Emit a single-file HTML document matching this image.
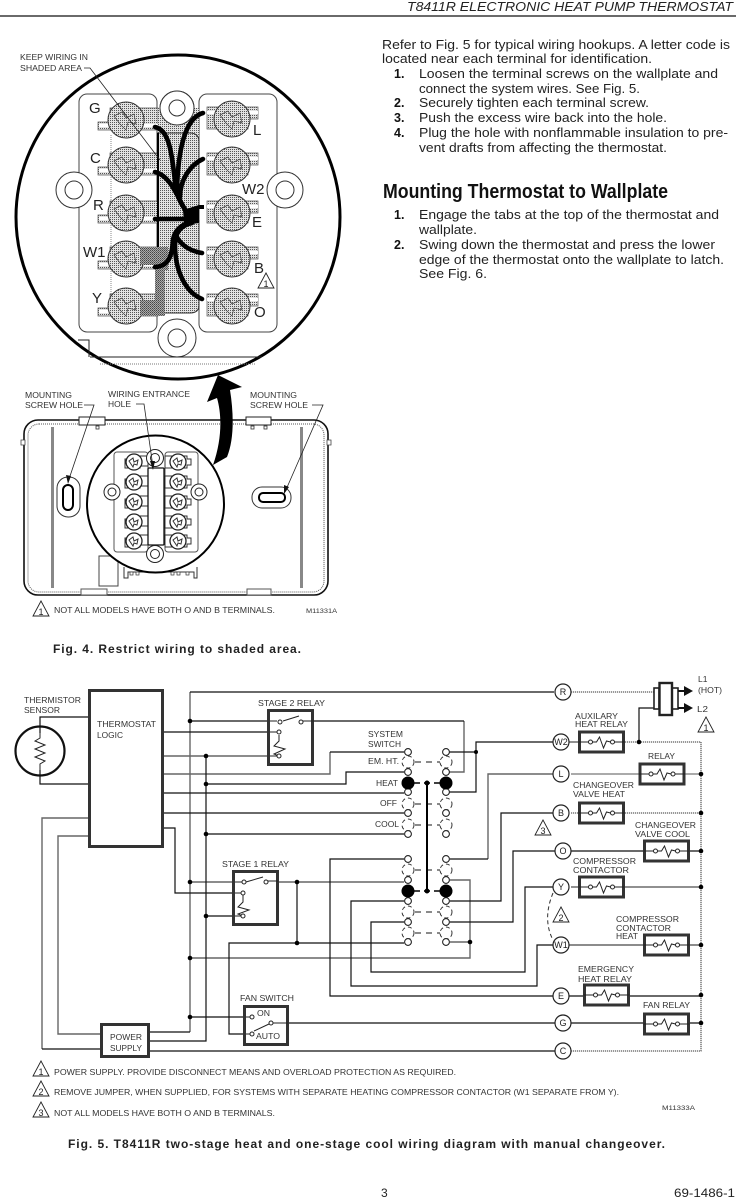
<!DOCTYPE html>
<html><head><meta charset="utf-8"><title>T8411R</title>
<style>
html,body{margin:0;padding:0;background:#fff;}
svg{display:block;}
text{font-family:"Liberation Sans",sans-serif;}
.b{font-size:12.5px;fill:#222;}
.n{font-size:12.5px;fill:#111;font-weight:bold;}
.l{font-size:8.5px;fill:#333;}
.t{font-size:15px;fill:#222;}
.c{font-size:9px;fill:#222;text-anchor:middle;}
.k{stroke:#111;stroke-width:1.2;fill:none;}
.g{stroke:#666;stroke-width:1.4;fill:none;}
.d{stroke:#333;stroke-width:1;fill:none;stroke-dasharray:1 1;}
.w{stroke:#000;stroke-width:4.6;fill:none;stroke-linecap:round;}
</style></head><body>
<svg xmlns="http://www.w3.org/2000/svg" width="736" height="1199" viewBox="0 0 736 1199">
<defs>
<pattern id="st" width="2" height="2" patternUnits="userSpaceOnUse"><rect width="2" height="2" fill="#e2e2e2"/><rect width="1" height="1" fill="#555"/></pattern>
<pattern id="dk" width="2" height="2" patternUnits="userSpaceOnUse"><rect width="2" height="2" fill="#aaa"/><rect width="1" height="1" fill="#444"/><rect x="1" y="1" width="1" height="1" fill="#666"/></pattern>
<g id="relay"><rect x="-22" y="-10" width="44" height="20" fill="#fff" stroke="#333" stroke-width="3"/><path d="M-23,0H-13M-9,0H-5L-2,-5L2,6L5,-1L9,0M13,0H23" stroke="#222" fill="none"/><circle cx="-11" r="2" fill="#fff" stroke="#222"/><circle cx="11" r="2" fill="#fff" stroke="#222"/></g>
<g id="tL"><path d="M-28,2H-16V-12H32V10H-28Z" fill="url(#st)" stroke="#555" stroke-width=".7"/><rect x="-27" y="4" width="14" height="3" fill="#fff"/><rect x="17" y="4" width="15" height="3" fill="#fff"/><circle r="18" fill="url(#st)" stroke="#333"/><path d="M-12,-4L-4,-8L0,-2L8,-6L10,4L2,2L0,10L-6,4Z" fill="none" stroke="#444" stroke-width=".7"/></g>
<g id="tR"><path d="M-25,-12H26V0H16V10H-25Z" fill="url(#st)" stroke="#555" stroke-width=".7"/><rect x="17" y="-8" width="9" height="3" fill="#fff"/><rect x="-25" y="-8" width="8" height="3" fill="#fff"/><circle r="18" fill="url(#st)" stroke="#333"/><path d="M-12,-4L-4,-8L0,-2L8,-6L10,4L2,2L0,10L-6,4Z" fill="none" stroke="#444" stroke-width=".7"/></g>
<g id="sL"><path d="M-9,-3H-5V-6H14V4H6V6H-9Z" fill="#fff" stroke="#333"/><circle r="8" fill="#fff" stroke="#222" stroke-width="1.3"/><path d="M-5,-1L-1,-4L0,0L4,-2L3,3L0,2L-1,5Z" fill="none" stroke="#333"/></g>
<g id="sR"><path d="M-13,-6H9V-3H13V3H9V6H-13Z" fill="#fff" stroke="#333"/><circle r="8" fill="#fff" stroke="#222" stroke-width="1.3"/><path d="M-5,-1L-1,-4L0,0L4,-2L3,3L0,2L-1,5Z" fill="none" stroke="#333"/></g>
<g id="nd"><circle r="3.4" fill="#fff" stroke="#222" stroke-width="1.1"/></g>
<g id="ro"><circle r="6" fill="#fff" stroke="#333" stroke-dasharray="4 3"/></g>
<g id="tri"><path d="M0,-8L8,7H-8Z" fill="#fff" stroke="#222" stroke-width=".9"/></g>
</defs>
<rect width="736" height="1199" fill="#fff"/>

<!-- header -->
<text x="407" y="11" font-size="13" font-style="italic" fill="#222" textLength="326" lengthAdjust="spacingAndGlyphs">T8411R ELECTRONIC HEAT PUMP THERMOSTAT</text>
<line x1="0" y1="16" x2="736" y2="16" stroke="#111" stroke-width="1.2"/>

<!-- right column -->
<text class="b" x="382" y="49" textLength="348" lengthAdjust="spacingAndGlyphs">Refer to Fig. 5 for typical wiring hookups. A letter code is</text>
<text class="b" x="382" y="63" textLength="270" lengthAdjust="spacingAndGlyphs">located near each terminal for identification.</text>
<text class="n" x="394" y="78">1.</text><text class="b" x="419" y="78" textLength="299" lengthAdjust="spacingAndGlyphs">Loosen the terminal screws on the wallplate and</text>
<text class="b" x="419" y="93" textLength="221" lengthAdjust="spacingAndGlyphs">connect the system wires. See Fig. 5.</text>
<text class="n" x="394" y="107">2.</text><text class="b" x="419" y="107" textLength="230" lengthAdjust="spacingAndGlyphs">Securely tighten each terminal screw.</text>
<text class="n" x="394" y="122">3.</text><text class="b" x="419" y="122" textLength="248" lengthAdjust="spacingAndGlyphs">Push the excess wire back into the hole.</text>
<text class="n" x="394" y="137">4.</text><text class="b" x="419" y="137" textLength="309" lengthAdjust="spacingAndGlyphs">Plug the hole with nonflammable insulation to pre-</text>
<text class="b" x="419" y="152" textLength="248" lengthAdjust="spacingAndGlyphs">vent drafts from affecting the thermostat.</text>
<text x="383" y="198" font-size="20" font-weight="bold" fill="#111" textLength="285" lengthAdjust="spacingAndGlyphs">Mounting Thermostat to Wallplate</text>
<text class="n" x="394" y="219">1.</text><text class="b" x="419" y="219" textLength="300" lengthAdjust="spacingAndGlyphs">Engage the tabs at the top of the thermostat and</text>
<text class="b" x="419" y="234" textLength="58" lengthAdjust="spacingAndGlyphs">wallplate.</text>
<text class="n" x="394" y="249">2.</text><text class="b" x="419" y="249" textLength="296" lengthAdjust="spacingAndGlyphs">Swing down the thermostat and press the lower</text>
<text class="b" x="419" y="264" textLength="305" lengthAdjust="spacingAndGlyphs">edge of the thermostat onto the wallplate to latch.</text>
<text class="b" x="419" y="278" textLength="68" lengthAdjust="spacingAndGlyphs">See Fig. 6.</text>

<!-- FIG 4 top -->
<rect x="79" y="94" width="78" height="238" rx="8" fill="#fff" stroke="#444"/>
<rect x="199" y="94" width="78" height="238" rx="8" fill="#fff" stroke="#444"/>
<path d="M111,135V300" stroke="#888" stroke-dasharray="1 1"/>
<circle cx="177" cy="108" r="17" fill="#fff" stroke="#333"/><circle cx="177" cy="108" r="8" fill="#fff" stroke="#333"/>
<circle cx="177" cy="338" r="19" fill="#fff" stroke="#333"/><circle cx="177" cy="338" r="9" fill="#fff" stroke="#333"/>
<circle cx="74" cy="190" r="18" fill="#fff" stroke="#333"/><circle cx="74" cy="190" r="9" fill="#fff" stroke="#333"/>
<circle cx="285" cy="190" r="18" fill="#fff" stroke="#333"/><circle cx="285" cy="190" r="9" fill="#fff" stroke="#333"/>
<use href="#tL" x="126" y="120"/><use href="#tL" x="126" y="165"/><use href="#tL" x="126" y="213"/><use href="#tL" x="126" y="259"/><use href="#tL" x="126" y="306"/>
<use href="#tR" x="232" y="119"/><use href="#tR" x="232" y="165"/><use href="#tR" x="232" y="213"/><use href="#tR" x="232" y="259"/><use href="#tR" x="232" y="306"/>
<rect x="158" y="108" width="41" height="28" fill="url(#st)"/>
<circle cx="177" cy="108" r="17" fill="#fff" stroke="#333"/><circle cx="177" cy="108" r="8" fill="#fff" stroke="#333"/>
<path d="M158,133H190Q199,133 199,142V305Q199,313 190,313H158Z" fill="url(#st)" stroke="#333"/>
<path d="M158,133V250" stroke="#000" stroke-width="2"/>
<path d="M140,247H168V270H165V316H140V300H155V265H140Z" fill="url(#dk)"/>
<path class="w" d="M155,127C170,130 172,155 176,190Q180,205 190,215"/>
<path class="w" d="M203,113C185,118 178,150 177,190"/>
<path class="w" d="M155,172C168,175 175,190 186,212"/>
<path class="w" d="M203,159C190,165 180,180 180,197"/>
<path class="w" d="M155,219H190"/>
<path d="M183,210L199,205H204V209H199V223H184Z" fill="#000"/>
<path class="w" d="M155,267C172,266 172,250 173,240C175,228 185,222 197,221"/>
<path class="w" d="M202,253C190,251 180,245 176,235"/>
<path class="w" d="M202,299C185,292 175,270 175,245C175,232 182,225 192,223"/>
<circle cx="178" cy="217" r="162" fill="none" stroke="#000" stroke-width="3"/>
<path d="M78,340H89V357M90,357H262" fill="none" stroke="#222"/>
<path d="M100,364H255" stroke="#777" stroke-dasharray="1 1"/>
<text class="t" x="89" y="113">G</text><text class="t" x="253" y="135">L</text><text class="t" x="90" y="163">C</text>
<text class="t" x="242" y="194">W2</text><text class="t" x="93" y="210">R</text><text class="t" x="252" y="227">E</text>
<text class="t" x="83" y="257">W1</text><text class="t" x="254" y="273">B</text><text class="t" x="92" y="303">Y</text><text class="t" x="254" y="317">O</text>
<use href="#tri" x="266" y="281"/><text class="c" x="266" y="287" font-size="7">1</text>
<text class="l" x="20" y="60" textLength="68" lengthAdjust="spacingAndGlyphs">KEEP WIRING IN</text>
<text class="l" x="20" y="71" textLength="62" lengthAdjust="spacingAndGlyphs">SHADED AREA</text>
<path d="M84,68H90L160,160" fill="none" stroke="#222" stroke-width=".8"/>

<!-- FIG 4 plate -->
<rect x="24" y="420" width="304" height="175" rx="14" fill="#fff" stroke="#111" stroke-width="1.6"/>
<rect x="28" y="424" width="296" height="168" rx="11" fill="none" stroke="#555" stroke-dasharray="1 1"/>
<path d="M21,440H25V445H21ZM327,440H331V445H327Z" fill="#fff" stroke="#444" stroke-width=".8"/>
<rect x="79" y="417" width="26" height="8" fill="#fff" stroke="#222"/><rect x="246" y="417" width="25" height="8" fill="#fff" stroke="#222"/>
<rect x="96" y="426" width="3" height="3" fill="#fff" stroke="#333" stroke-width=".8"/><rect x="251" y="426" width="3" height="3" fill="#fff" stroke="#333" stroke-width=".8"/><rect x="264" y="426" width="3" height="3" fill="#fff" stroke="#333" stroke-width=".8"/>
<rect x="81" y="589" width="26" height="6" fill="#fff" stroke="#555"/><rect x="247" y="589" width="24" height="6" fill="#fff" stroke="#555"/>
<rect x="51" y="427" width="3" height="161" fill="#888"/><rect x="300" y="427" width="3" height="161" fill="#888"/>
<rect x="57" y="477" width="23" height="40" rx="11" fill="#fff" stroke="#333"/><rect x="63" y="485" width="10" height="25" rx="5" fill="#fff" stroke="#000" stroke-width="2"/>
<rect x="252" y="487" width="39" height="21" rx="10" fill="#fff" stroke="#333"/><rect x="259" y="493" width="26" height="9" rx="4" fill="#fff" stroke="#000" stroke-width="2"/>
<rect x="99" y="556" width="19" height="30" fill="#fff" stroke="#444"/>
<path d="M124,567V578H128V572H194V578H197V567" fill="none" stroke="#333"/>
<g fill="#fff" stroke="#333" stroke-width=".7"><rect x="130" y="572" width="3" height="3"/><rect x="136" y="572" width="3" height="3"/><rect x="171" y="572" width="3" height="3"/><rect x="177" y="572" width="3" height="3"/><rect x="186" y="572" width="3" height="3"/></g>
<circle cx="155.5" cy="504" r="68.5" fill="#fff" stroke="#000" stroke-width="2"/>
<rect x="114" y="452" width="34" height="100" rx="3" fill="#fff" stroke="#555"/><rect x="165" y="452" width="33" height="100" rx="3" fill="#fff" stroke="#555"/>
<use href="#sL" x="134" y="462"/><use href="#sL" x="134" y="482"/><use href="#sL" x="134" y="502"/><use href="#sL" x="134" y="522"/><use href="#sL" x="134" y="541"/>
<use href="#sR" x="178" y="462"/><use href="#sR" x="178" y="482"/><use href="#sR" x="178" y="502"/><use href="#sR" x="178" y="522"/><use href="#sR" x="178" y="541"/>
<rect x="148" y="468" width="16" height="77" rx="1" fill="#fff" stroke="#111" stroke-width="1.3"/>
<circle cx="155" cy="458" r="8.5" fill="#fff" stroke="#222"/><circle cx="155" cy="458" r="4.5" fill="#fff" stroke="#222"/>
<circle cx="155" cy="554" r="8.5" fill="#fff" stroke="#222"/><circle cx="155" cy="554" r="4.5" fill="#fff" stroke="#222"/>
<circle cx="112" cy="492" r="8" fill="#fff" stroke="#222"/><circle cx="112" cy="492" r="4" fill="#fff" stroke="#222"/>
<circle cx="199" cy="492" r="8" fill="#fff" stroke="#222"/><circle cx="199" cy="492" r="4" fill="#fff" stroke="#222"/>
<path d="M84,405H94L68,482M312,405H323L285,492M136,404H144L153,467" fill="none" stroke="#222" stroke-width=".8"/>
<path d="M68,484L66,475L71,476ZM284,494L284,485L289,487ZM153,470L150,461L155,461Z" fill="#111"/>
<!-- big arrow -->
<path d="M213,465C222,440 222,415 217,398L207,402L218,375L242,387L230,390C234,415 234,440 227,457Z" fill="#000"/>
<text class="l" x="25" y="398" textLength="47" lengthAdjust="spacingAndGlyphs">MOUNTING</text>
<text class="l" x="25" y="408" textLength="58" lengthAdjust="spacingAndGlyphs">SCREW HOLE</text>
<text class="l" x="108" y="397" textLength="82" lengthAdjust="spacingAndGlyphs">WIRING ENTRANCE</text>
<text class="l" x="108" y="407" textLength="23" lengthAdjust="spacingAndGlyphs">HOLE</text>
<text class="l" x="250" y="398" textLength="47" lengthAdjust="spacingAndGlyphs">MOUNTING</text>
<text class="l" x="250" y="408" textLength="58" lengthAdjust="spacingAndGlyphs">SCREW HOLE</text>
<use href="#tri" x="41" y="609"/><text class="c" x="41" y="615" font-size="7">1</text>
<text class="l" x="54" y="613" textLength="221" lengthAdjust="spacingAndGlyphs">NOT ALL MODELS HAVE BOTH O AND B TERMINALS.</text>
<text x="306" y="613" font-size="6.5" fill="#333" textLength="31" lengthAdjust="spacingAndGlyphs">M11331A</text>
<text x="53" y="653" font-size="12" font-weight="bold" fill="#222" textLength="248" lengthAdjust="spacing">Fig. 4. Restrict wiring to shaded area.</text>

<!-- FIG 5 wires -->
<g class="g"><path d="M190,1032V692"/><path d="M164,756H277"/><path d="M164,774H330V752"/><path d="M190,958H470V880H450"/><path d="M450,942H470"/><path d="M88,818H42V1049"/><path d="M88,836H58V1034H100"/><path d="M553,774H488V859"/><path d="M464,721V772H449"/><path d="M190,882H232"/><path d="M279,882H404"/></g>
<g class="k"><path d="M190,692H554"/><path d="M150,1032H190"/><path d="M190,721H267M314,721H464"/><path d="M164,732H279"/><path d="M330,752H404"/><path d="M206,784H346V772H404"/><path d="M164,793H404"/><path d="M164,813H404"/><path d="M206,834H404"/><path d="M206,756V1041H150"/>
<path d="M297,882V943"/><path d="M243,1034H229V943H404"/><path d="M164,828H175V893H232"/><path d="M206,916H232"/>
<path d="M553,996H330V859H404"/><path d="M553,945H537V986H351V901H404"/><path d="M553,887H525V972H371V922H404"/>
<path d="M488,859H450"/><path d="M553,813H501V901H450"/><path d="M555,851H513V922H450"/><path d="M553,742H476V792H449M449,752H476"/>
<path d="M555,1023H275"/><path d="M150,1051H555"/><path d="M190,1017H248"/><path d="M42,1049H100"/>
<path d="M88,717H40V733M40,770V784H88"/><path d="M639,742V708H659"/></g>
<path d="M571,692H654M625,742H701V1051H571" fill="none" stroke="#333" stroke-dasharray="1.2 .8" stroke-width="1"/>
<path d="M571,774H639M685,774H701" stroke="#777" stroke-width="1.2"/><path d="M571,813H578M625,813H701" stroke="#333" stroke-dasharray="1.2 .8"/>
<path d="M571,851H643M690,851H701" stroke="#111" stroke-width="1.2"/><path d="M571,887H578M625,887H701" stroke="#222"/>
<path d="M569,945H643M690,945H701" stroke="#666" stroke-width="1.4"/><path d="M569,996H583M630,996H701" stroke="#111" stroke-width="1.2"/>
<path d="M571,1023H643M690,1023H701" stroke="#111" stroke-width="1.2"/><path d="M569,742H578" stroke="#222"/>

<!-- Thermostat -->
<rect x="89.5" y="690.5" width="73" height="156" fill="#fff" stroke="#333" stroke-width="3"/>
<text class="l" x="97" y="727" textLength="59" lengthAdjust="spacingAndGlyphs">THERMOSTAT</text>
<text class="l" x="97" y="738" textLength="26" lengthAdjust="spacingAndGlyphs">LOGIC</text>
<circle cx="40" cy="751" r="24.5" fill="none" stroke="#111" stroke-width="2.2"/>
<path d="M40,733V738L35,741L45,745L35,749L45,753L35,757L45,761L40,764V770" fill="none" stroke="#222"/>
<text class="l" x="24" y="703" textLength="57" lengthAdjust="spacingAndGlyphs">THERMISTOR</text>
<text class="l" x="24" y="713" textLength="36" lengthAdjust="spacingAndGlyphs">SENSOR</text>

<!-- Stage 2 relay -->
<rect x="268.5" y="710.5" width="44" height="54" fill="#fff" stroke="#333" stroke-width="3"/>
<path d="M283,721L299,716M303,721H314M270,721H277M270,732H277M270,756H277M279,735V741L274,746L285,749L274,754L279,756" fill="none" stroke="#222"/>
<circle cx="301" cy="722" r="2" fill="#fff" stroke="#222"/>
<circle cx="279" cy="732" r="2" fill="#fff" stroke="#222"/><circle cx="279" cy="756" r="2" fill="#fff" stroke="#222"/>
<circle cx="280" cy="722" r="2" fill="#fff" stroke="#222"/>
<text class="l" x="258" y="706" textLength="67" lengthAdjust="spacingAndGlyphs">STAGE 2 RELAY</text>

<!-- Stage 1 relay -->
<rect x="233.5" y="871.5" width="44" height="53" fill="#fff" stroke="#333" stroke-width="3"/>
<path d="M246,882L263,877M268,881H278M235,882H242M235,893H241M235,916H241M243,895V902L238,907L249,910L238,914L243,916" fill="none" stroke="#222"/>
<circle cx="244" cy="882" r="2" fill="#fff" stroke="#222"/><circle cx="266" cy="882" r="2" fill="#fff" stroke="#222"/>
<circle cx="243" cy="893" r="2" fill="#fff" stroke="#222"/><circle cx="243" cy="916" r="2" fill="#fff" stroke="#222"/>
<text class="l" x="222" y="867" textLength="67" lengthAdjust="spacingAndGlyphs">STAGE 1 RELAY</text>

<!-- Fan switch -->
<rect x="244.5" y="1006.5" width="43" height="38" fill="#fff" stroke="#333" stroke-width="3"/>
<path d="M246,1017H250M246,1034H250M254,1031L269,1024M273,1023H288" fill="none" stroke="#222"/>
<circle cx="252" cy="1017" r="2" fill="#fff" stroke="#222"/><circle cx="252" cy="1034" r="2" fill="#fff" stroke="#222"/><circle cx="271" cy="1023" r="2" fill="#fff" stroke="#222"/>
<text class="l" x="257" y="1016" textLength="13" lengthAdjust="spacingAndGlyphs">ON</text>
<text class="l" x="256" y="1039" textLength="24" lengthAdjust="spacingAndGlyphs">AUTO</text>
<text class="l" x="240" y="1001" textLength="54" lengthAdjust="spacingAndGlyphs">FAN SWITCH</text>

<!-- Power supply -->
<rect x="101.5" y="1024.5" width="47" height="32" fill="#fff" stroke="#333" stroke-width="3"/>
<text class="l" x="110" y="1040" textLength="32" lengthAdjust="spacingAndGlyphs">POWER</text>
<text class="l" x="110" y="1051" textLength="32" lengthAdjust="spacingAndGlyphs">SUPPLY</text>

<!-- System switch -->
<path d="M415,762H440M415,804H440M415,825H440M415,870H440M415,912H440M415,933H440" stroke="#444" stroke-width="1.2" stroke-dasharray="6 5"/>
<path d="M414,783H440M414,891H440" stroke="#000" stroke-width="1.6" stroke-dasharray="6 4"/>
<path d="M427,783V891" stroke="#000" stroke-width="2"/>
<g fill="#fff"><use href="#ro" x="408" y="762"/><use href="#ro" x="446" y="762"/><use href="#ro" x="408" y="804"/><use href="#ro" x="446" y="804"/><use href="#ro" x="408" y="825"/><use href="#ro" x="446" y="825"/><use href="#ro" x="408" y="870"/><use href="#ro" x="446" y="870"/><use href="#ro" x="408" y="912"/><use href="#ro" x="446" y="912"/><use href="#ro" x="408" y="933"/><use href="#ro" x="446" y="933"/></g>
<use href="#nd" x="408" y="752"/><use href="#nd" x="446" y="752"/><use href="#nd" x="408" y="772"/><use href="#nd" x="446" y="772"/><use href="#nd" x="408" y="792"/><use href="#nd" x="446" y="792"/><use href="#nd" x="408" y="813"/><use href="#nd" x="446" y="813"/><use href="#nd" x="408" y="834"/><use href="#nd" x="446" y="834"/>
<use href="#nd" x="408" y="859"/><use href="#nd" x="446" y="859"/><use href="#nd" x="408" y="880"/><use href="#nd" x="446" y="880"/><use href="#nd" x="408" y="901"/><use href="#nd" x="446" y="901"/><use href="#nd" x="408" y="922"/><use href="#nd" x="446" y="922"/><use href="#nd" x="408" y="942"/><use href="#nd" x="446" y="942"/>
<g fill="#000"><circle cx="408" cy="783" r="6.5"/><circle cx="446" cy="783" r="6.5"/><circle cx="408" cy="891" r="6.5"/><circle cx="446" cy="891" r="6.5"/><circle cx="427" cy="783" r="2.5"/><circle cx="427" cy="891" r="2.5"/>
<circle cx="190" cy="721" r="2.3"/><circle cx="206" cy="756" r="2.3"/><circle cx="206" cy="784" r="2.3"/><circle cx="206" cy="834" r="2.3"/><circle cx="190" cy="882" r="2.3"/><circle cx="297" cy="882" r="2.3"/><circle cx="206" cy="916" r="2.3"/><circle cx="297" cy="943" r="2.3"/><circle cx="190" cy="958" r="2.3"/><circle cx="190" cy="1017" r="2.3"/><circle cx="476" cy="752" r="2"/><circle cx="470" cy="942" r="2.3"/><circle cx="639" cy="742" r="2.3"/>
<circle cx="701" cy="774" r="2.3"/><circle cx="701" cy="813" r="2.3"/><circle cx="701" cy="851" r="2.3"/><circle cx="701" cy="887" r="2.3"/><circle cx="701" cy="945" r="2.3"/><circle cx="701" cy="995" r="2.3"/><circle cx="701" cy="1023" r="2.3"/></g>
<text class="l" x="368" y="737" textLength="35" lengthAdjust="spacingAndGlyphs">SYSTEM</text>
<text class="l" x="368" y="747" textLength="33" lengthAdjust="spacingAndGlyphs">SWITCH</text>
<text class="l" x="368" y="764" textLength="31" lengthAdjust="spacingAndGlyphs">EM. HT.</text>
<text class="l" x="376" y="786" textLength="22" lengthAdjust="spacingAndGlyphs">HEAT</text>
<text class="l" x="380" y="806" textLength="17" lengthAdjust="spacingAndGlyphs">OFF</text>
<text class="l" x="375" y="827" textLength="24" lengthAdjust="spacingAndGlyphs">COOL</text>

<!-- Terminal circles -->
<g fill="#fff" stroke="#222" stroke-width="1.2"><circle cx="563" cy="692" r="8"/><circle cx="561" cy="742" r="8"/><circle cx="561" cy="774" r="8"/><circle cx="561" cy="813" r="8"/><circle cx="563" cy="851" r="8"/><circle cx="561" cy="887" r="8"/><circle cx="561" cy="945" r="8"/><circle cx="561" cy="996" r="8"/><circle cx="563" cy="1023" r="8"/><circle cx="563" cy="1051" r="8"/></g>
<text class="c" x="563" y="695">R</text><text class="c" x="561" y="745" font-size="7.5">W2</text><text class="c" x="561" y="777">L</text><text class="c" x="561" y="816">B</text><text class="c" x="563" y="854">O</text><text class="c" x="561" y="890">Y</text><text class="c" x="561" y="948" font-size="7.5">W1</text><text class="c" x="561" y="999">E</text><text class="c" x="563" y="1026">G</text><text class="c" x="563" y="1054">C</text>

<!-- Relays -->
<use href="#relay" x="601.5" y="742"/><use href="#relay" x="662" y="774"/><use href="#relay" x="601.5" y="813"/><use href="#relay" x="666.5" y="851"/><use href="#relay" x="601.5" y="887"/><use href="#relay" x="666.5" y="945"/><use href="#relay" x="606.5" y="995"/><use href="#relay" x="666.5" y="1024"/>
<text class="l" x="575" y="719" textLength="43" lengthAdjust="spacingAndGlyphs">AUXILARY</text>
<text class="l" x="575" y="727" textLength="53" lengthAdjust="spacingAndGlyphs">HEAT RELAY</text>
<text class="l" x="648" y="759" textLength="27" lengthAdjust="spacingAndGlyphs">RELAY</text>
<text class="l" x="573" y="788" textLength="61" lengthAdjust="spacingAndGlyphs">CHANGEOVER</text>
<text class="l" x="573" y="797" textLength="52" lengthAdjust="spacingAndGlyphs">VALVE HEAT</text>
<text class="l" x="635" y="828" textLength="61" lengthAdjust="spacingAndGlyphs">CHANGEOVER</text>
<text class="l" x="635" y="837" textLength="55" lengthAdjust="spacingAndGlyphs">VALVE COOL</text>
<text class="l" x="573" y="864" textLength="63" lengthAdjust="spacingAndGlyphs">COMPRESSOR</text>
<text class="l" x="573" y="873" textLength="56" lengthAdjust="spacingAndGlyphs">CONTACTOR</text>
<text class="l" x="616" y="922" textLength="63" lengthAdjust="spacingAndGlyphs">COMPRESSOR</text>
<text class="l" x="616" y="931" textLength="55" lengthAdjust="spacingAndGlyphs">CONTACTOR</text>
<text class="l" x="616" y="939" textLength="22" lengthAdjust="spacingAndGlyphs">HEAT</text>
<text class="l" x="578" y="972" textLength="56" lengthAdjust="spacingAndGlyphs">EMERGENCY</text>
<text class="l" x="578" y="982" textLength="54" lengthAdjust="spacingAndGlyphs">HEAT RELAY</text>
<text class="l" x="643" y="1008" textLength="47" lengthAdjust="spacingAndGlyphs">FAN RELAY</text>

<!-- Transformer -->
<rect x="654" y="688" width="5" height="21" fill="#fff" stroke="#222" stroke-width="1.6"/>
<rect x="672" y="688" width="6" height="21" fill="#fff" stroke="#222" stroke-width="1.6"/>
<rect x="659.5" y="683" width="12.5" height="32" fill="#fff" stroke="#222" stroke-width="2.4"/>
<path d="M678,691H687M678,708H687" stroke="#111" stroke-width="2"/>
<path d="M684,686L693,691L684,696ZM684,703L693,708L684,713Z" fill="#111"/>
<text class="l" x="698" y="682" font-size="8">L1</text>
<text class="l" x="698" y="693" textLength="24" lengthAdjust="spacingAndGlyphs">(HOT)</text>
<text class="l" x="697" y="712" textLength="11" lengthAdjust="spacingAndGlyphs">L2</text>
<use href="#tri" x="706" y="725"/><text class="c" x="706" y="731" font-size="7">1</text>
<use href="#tri" x="543" y="828"/><text class="c" x="543" y="834" font-size="7">3</text>
<path d="M553,893C546,910 546,925 552,938" fill="none" stroke="#333" stroke-dasharray="4 3"/>
<use href="#tri" x="561" y="915"/><text class="c" x="561" y="921" font-size="7">2</text>

<!-- Notes -->
<use href="#tri" x="41" y="1069"/><text class="c" x="41" y="1075" font-size="7">1</text>
<text class="l" x="54" y="1075" textLength="402" lengthAdjust="spacingAndGlyphs">POWER SUPPLY. PROVIDE DISCONNECT MEANS AND OVERLOAD PROTECTION AS REQUIRED.</text>
<use href="#tri" x="41" y="1089"/><text class="c" x="41" y="1095" font-size="7">2</text>
<text class="l" x="54" y="1095" textLength="565" lengthAdjust="spacingAndGlyphs">REMOVE JUMPER, WHEN SUPPLIED, FOR SYSTEMS WITH SEPARATE HEATING COMPRESSOR CONTACTOR (W1 SEPARATE FROM Y).</text>
<use href="#tri" x="41" y="1110"/><text class="c" x="41" y="1116" font-size="7">3</text>
<text class="l" x="54" y="1116" textLength="221" lengthAdjust="spacingAndGlyphs">NOT ALL MODELS HAVE BOTH O AND B TERMINALS.</text>
<text x="662" y="1110" font-size="6.5" fill="#333" textLength="33" lengthAdjust="spacingAndGlyphs">M11333A</text>
<text x="68" y="1148" font-size="12" font-weight="bold" fill="#222" textLength="597" lengthAdjust="spacing">Fig. 5. T8411R two-stage heat and one-stage cool wiring diagram with manual changeover.</text>
<text x="381" y="1197" font-size="12" fill="#222">3</text>
<text x="674" y="1197" font-size="12" fill="#222" textLength="61" lengthAdjust="spacingAndGlyphs">69-1486-1</text>
</svg>
</body></html>
